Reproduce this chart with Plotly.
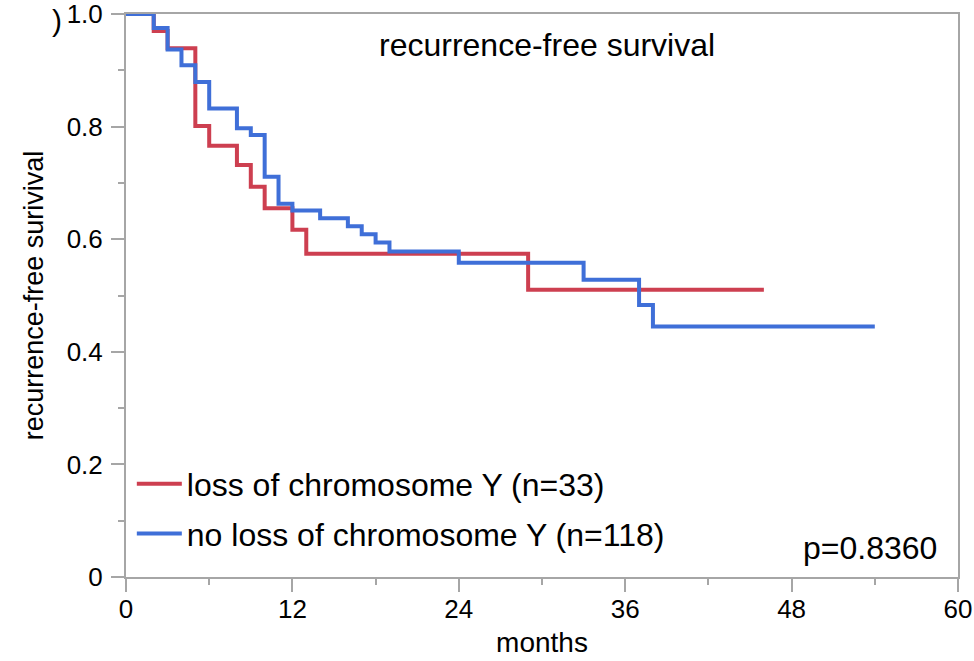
import plotly.graph_objects as go

# Kaplan-Meier steps (months, survival)
loss_t = [0, 2, 3, 5, 6, 8, 9, 10, 12, 13, 29, 46]
loss_s = [1.0, 0.970, 0.939, 0.801, 0.766, 0.732, 0.693, 0.655, 0.617, 0.574, 0.510, 0.510]

noloss_t = [0, 2, 3, 4, 5, 6, 8, 9, 10, 11, 12, 14, 16, 17, 18, 19, 24, 33, 37, 38, 54]
noloss_s = [1.0, 0.975, 0.937, 0.909, 0.879, 0.832, 0.797, 0.785, 0.711, 0.663, 0.651,
            0.637, 0.623, 0.609, 0.594, 0.578, 0.558, 0.528, 0.483, 0.445, 0.445]

x_ticks = [0, 12, 24, 36, 48, 60]
y_ticks = [0, 0.2, 0.4, 0.6, 0.8, 1.0]
y_tick_text = ["0", "0.2", "0.4", "0.6", "0.8", "1.0"]

RED = "#CD3F50"
BLUE = "#3F6FD8"
AXIS = "#A6A6A6"
FONT = "Liberation Sans, Arial, sans-serif"

fig = go.Figure()
fig.add_trace(go.Scatter(
    x=loss_t, y=loss_s, mode="lines", line=dict(color=RED, width=4, shape="hv"),
    name="loss of chromosome Y (n=33)", legendgroup="a"
))
fig.add_trace(go.Scatter(
    x=noloss_t, y=noloss_s, mode="lines", line=dict(color=BLUE, width=4, shape="hv"),
    name="no loss of chromosome Y (n=118)", legendgroup="b"
))

fig.update_layout(
    width=974, height=661,
    margin=dict(l=126, r=16, t=14, b=84, autoexpand=False),
    plot_bgcolor="white", paper_bgcolor="white",
    font=dict(family=FONT, color="black", size=25),
    showlegend=True,
    legend=dict(
        x=0.007, y=0.214, xanchor="left", yanchor="top",
        bgcolor="rgba(0,0,0,0)", font=dict(size=32),
        traceorder="grouped", tracegroupgap=5, itemwidth=45,
    ),
    xaxis=dict(
        range=[0, 60], tickvals=x_ticks, ticks="outside", ticklen=13, tickwidth=2,
        tickcolor=AXIS, showline=True, linecolor=AXIS, linewidth=2, mirror=True,
        showgrid=False, zeroline=False, tickfont=dict(size=26), automargin=False,
        ticklabelstandoff=-5, ticklabeloverflow="allow",
        minor=dict(dtick=6, ticks="outside", ticklen=6, tickwidth=2, tickcolor=AXIS),
        title=dict(text="months", font=dict(size=28), standoff=9),
    ),
    yaxis=dict(
        range=[0, 1.0], tickvals=y_ticks, ticktext=y_tick_text, ticks="outside",
        ticklen=13, tickwidth=2, tickcolor=AXIS, showline=True, linecolor=AXIS,
        linewidth=2, mirror=True, showgrid=False, zeroline=False, tickfont=dict(size=26),
        automargin=False, ticklabelstandoff=3, ticklabeloverflow="allow",
        minor=dict(dtick=0.1, ticks="outside", ticklen=6, tickwidth=2, tickcolor=AXIS),
        title=dict(text="recurrence-free surivival", font=dict(size=27), standoff=15),
    ),
    annotations=[
        dict(text="recurrence-free survival", x=0.506, y=0.945, xref="paper", yref="paper",
             xanchor="center", yanchor="middle", showarrow=False, font=dict(size=32)),
        dict(text="p=0.8360", x=0.894, y=0.0515, xref="paper", yref="paper",
             xanchor="center", yanchor="middle", showarrow=False, font=dict(size=32)),
        dict(text=")", x=-0.083, y=0.989, xref="paper", yref="paper",
             xanchor="center", yanchor="middle", showarrow=False, font=dict(size=30)),
    ],
)

# drop the default 8px page margin so the figure fills the window exactly
fig.write_html("out.html", config={"displayModeBar": False},
               post_script="document.body.style.margin='0';")
